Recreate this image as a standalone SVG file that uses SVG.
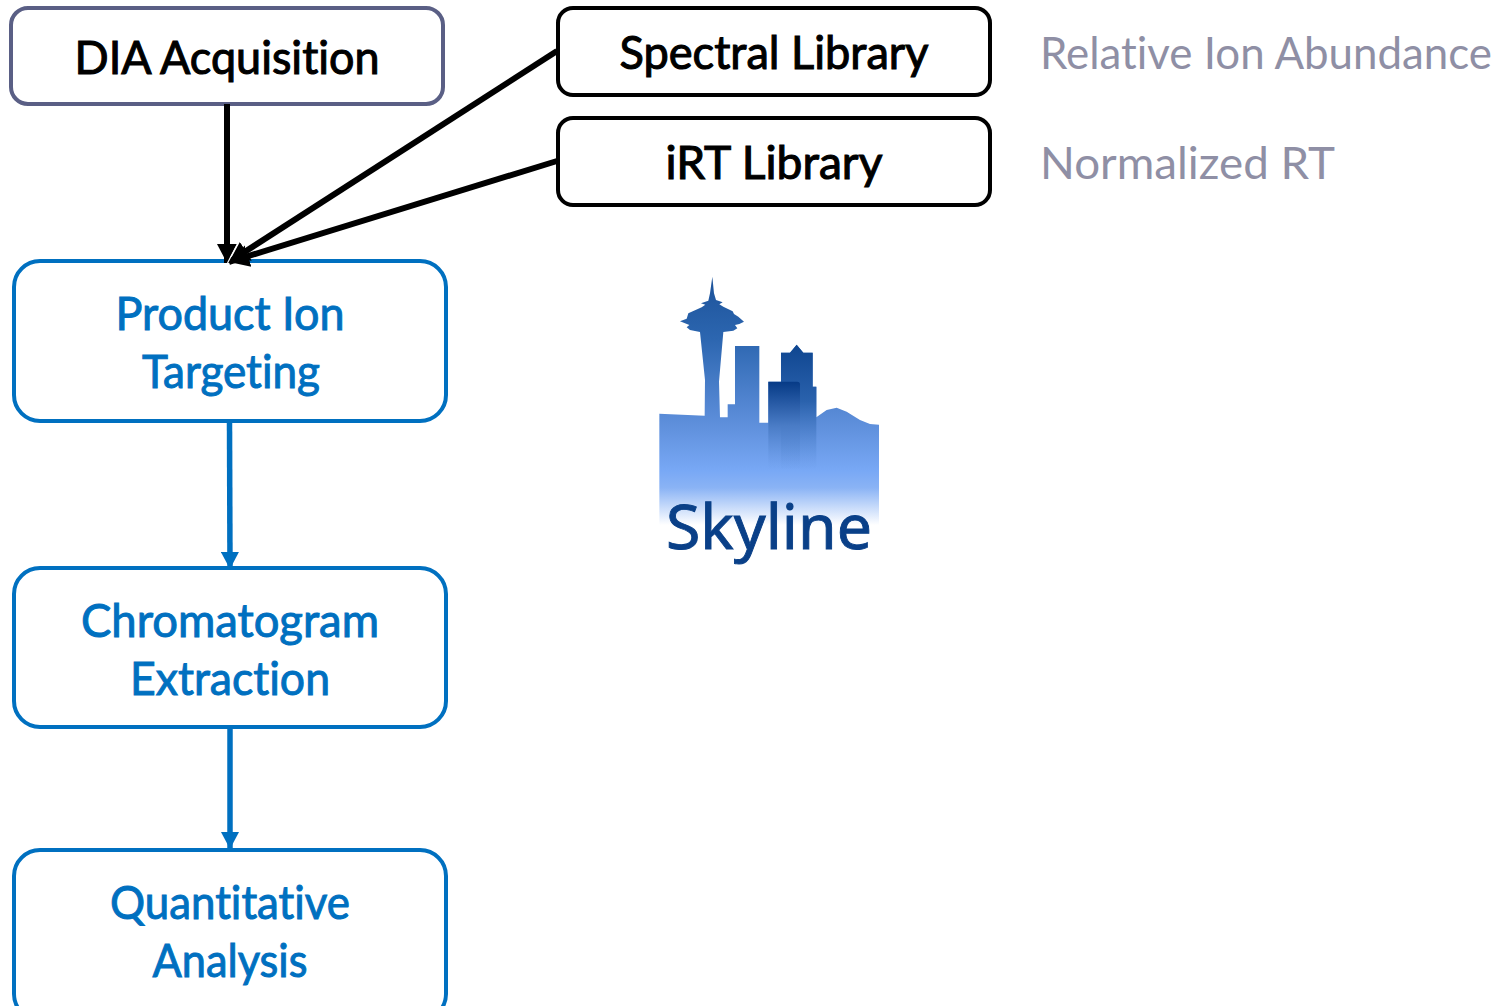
<svg xmlns="http://www.w3.org/2000/svg" width="1509" height="1006" viewBox="0 0 1509 1006">
<style>
text{font-family:"Lato","Open Sans","Liberation Sans",sans-serif;text-anchor:middle;font-variant-ligatures:none}
.box{fill:#fff;stroke-width:4}
.k{stroke:#000}.b{stroke:#0070c0}
.kt{font-size:47px;fill:#000;stroke:#000;stroke-width:1.1}
.bt{font-size:47px;fill:#0070c0;stroke:#0070c0;stroke-width:1}
.gt{font-size:45px;fill:#8f8fa5;text-anchor:start}
.lk{stroke:#000;stroke-width:6;fill:none}
.lb{stroke:#0070c0;stroke-width:5.500;fill:none}
</style>
<defs>
<marker id="ak" markerUnits="userSpaceOnUse" markerWidth="21" markerHeight="24" refX="20" refY="12" orient="auto"><path d="M0 1L20 12L0 23Z" fill="#000"/></marker>
<marker id="akv" markerUnits="userSpaceOnUse" markerWidth="21" markerHeight="24" refX="19" refY="12" orient="auto"><path d="M0 2L19 12L0 22Z" fill="#000"/><path d="M0 1.500L19 11.500" stroke="#fff" stroke-width="1.200" fill="none"/></marker>
<marker id="ab" markerUnits="userSpaceOnUse" markerWidth="18" markerHeight="18" refX="17" refY="9" orient="auto"><path d="M0 0L17 9L0 18Z" fill="#0070c0"/></marker>
<linearGradient id="sky" gradientUnits="userSpaceOnUse" x1="0" y1="20" x2="0" y2="765">
<stop offset="0" stop-color="#1c5299"/><stop offset=".25" stop-color="#2c66b0"/><stop offset=".6" stop-color="#5f90dc"/><stop offset=".78" stop-color="#78a8f5"/><stop offset=".85" stop-color="#8ab3f5"/><stop offset="1" stop-color="#fff"/>
</linearGradient>
<linearGradient id="bld1" gradientUnits="userSpaceOnUse" x1="0" y1="225" x2="0" y2="600">
<stop offset="0" stop-color="#0f4690"/><stop offset=".45" stop-color="#2a62ad"/><stop offset="1" stop-color="#5f90dc" stop-opacity="0"/>
</linearGradient>
<linearGradient id="bld2" gradientUnits="userSpaceOnUse" x1="0" y1="335" x2="0" y2="600">
<stop offset="0" stop-color="#063a86"/><stop offset=".5" stop-color="#4a7cc6"/><stop offset="1" stop-color="#6a9ae6" stop-opacity="0"/>
</linearGradient>
</defs>
<g id="dia"><rect class="box" x="11" y="8" width="432" height="96" rx="17" stroke="#5a5f85"/><text class="kt" x="227" y="74" textLength="305" lengthAdjust="spacingAndGlyphs">DIA Acquisition</text></g>
<g id="spectral"><rect class="box k" x="558" y="8" width="432" height="87" rx="15"/><text class="kt" x="774" y="69" textLength="309" lengthAdjust="spacingAndGlyphs">Spectral Library</text></g>
<g id="irt"><rect class="box k" x="558" y="118" width="432" height="87" rx="15"/><text class="kt" x="774" y="179" textLength="217" lengthAdjust="spacingAndGlyphs">iRT Library</text></g>
<g id="targeting"><rect class="box b" x="14" y="261" width="432" height="160" rx="26"/><text class="bt" x="230" y="330" textLength="229" lengthAdjust="spacingAndGlyphs">Product Ion</text><text class="bt" x="231" y="388" textLength="178" lengthAdjust="spacingAndGlyphs">Targeting</text></g>
<g id="extraction"><rect class="box b" x="14" y="568" width="432" height="159" rx="26"/><text class="bt" x="230" y="637" textLength="298" lengthAdjust="spacingAndGlyphs">Chromatogram</text><text class="bt" x="230" y="695" textLength="200" lengthAdjust="spacingAndGlyphs">Extraction</text></g>
<g id="analysis"><rect class="box b" x="14" y="850" width="432" height="170" rx="26"/><text class="bt" x="230" y="919" textLength="240" lengthAdjust="spacingAndGlyphs">Quantitative</text><text class="bt" x="230" y="977" textLength="155" lengthAdjust="spacingAndGlyphs">Analysis</text></g>
<g id="connectors">
<path class="lk" d="M557 51L229 262" marker-end="url(#ak)"/>
<path class="lk" d="M557 161L229 262" marker-end="url(#ak)"/>
<path class="lk" d="M227 104V263" marker-end="url(#akv)"/>
<path class="lb" d="M229.500 421L230 569" marker-end="url(#ab)"/>
<path class="lb" d="M230 727V849" marker-end="url(#ab)"/>
</g>
<text class="gt" x="1040" y="68.500" textLength="452" lengthAdjust="spacingAndGlyphs">Relative Ion Abundance</text>
<text class="gt" x="1040" y="178.500" textLength="295" lengthAdjust="spacingAndGlyphs">Normalized RT</text>
<g id="skyline-logo">
<g transform="translate(640 270) scale(.33333)">
<path fill="url(#sky)" d="M58 431L194 437L195 330L180 186L150 180L140 172L148 165L135 160L120 154L140 146L145 130L185 112L196 104L183 100L205 92L210 70L217 20L222 70L228 90L248 97L238 103L250 110L278 124L282 132L295 140L312 155L298 162L285 165L292 175L280 182L250 186L237 335L240 442L263 442V403H285V228H358V458H385V335H423V248H450L470 224L490 248H518V350H529V442L560 420L590 413L620 425L660 450L690 462L717 464V765H58Z"/>
<path fill="url(#bld1)" d="M423 248H450L470 224L490 248H518V350H529V600H423Z"/>
<path fill="url(#bld2)" d="M385 335H472Q480 335 480 343V600H385Z"/>
</g>
<text x="769" y="548.500" font-size="62" fill="#0a4088" stroke="#0a4088" stroke-width=".9" textLength="206" lengthAdjust="spacingAndGlyphs" style="font-family:'Noto Sans','Open Sans',sans-serif">Skyline</text>
</g>
</svg>
